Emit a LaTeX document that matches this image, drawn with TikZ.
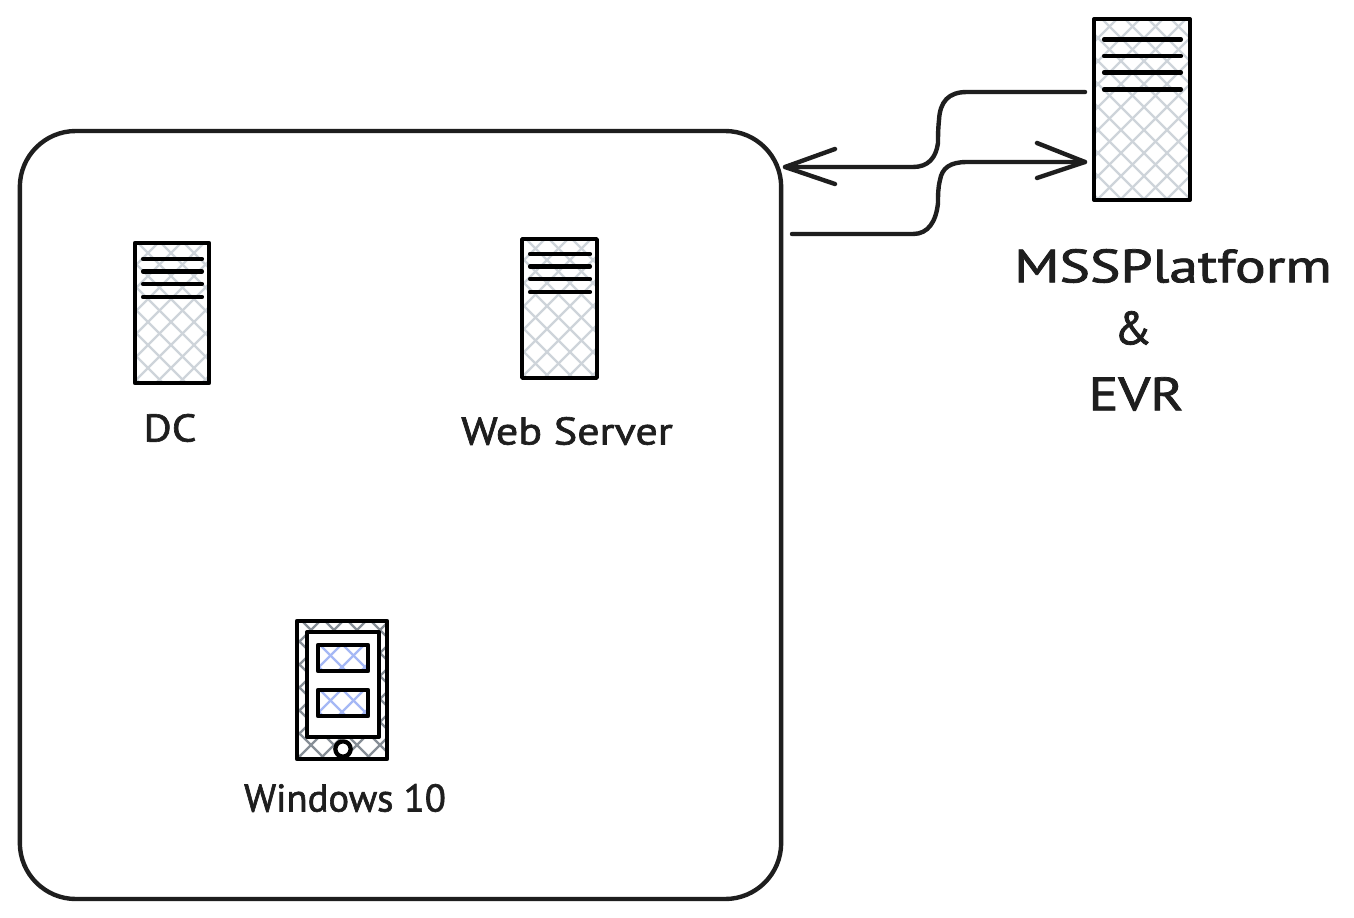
\documentclass[tikz,border=0pt]{standalone}
\usepackage{fontspec}
\setmainfont[FakeBold=1.6]{PT Sans}
\definecolor{ink}{HTML}{1E1E1E}
\definecolor{hatchgrey}{HTML}{CED4DA}
\definecolor{hatchdark}{HTML}{868E96}
\definecolor{hatchblue}{HTML}{A5B8F5}
\newcommand{\hatchbox}[6]{% x1 y1 x2 y2 colour period
  \begin{scope}
    \clip (#1,#2) rectangle (#3,#4);
    \pgfmathsetmacro{\hh}{#4-#2}
    \pgfmathsetmacro{\nn}{int((#3-#1+\hh)/#6)+1}
    \foreach \k in {0,...,\nn}{
      \draw[#5,line width=1.8pt] ({#1-\hh+\k*#6},#4) -- ++({\hh+2},{-\hh-2});
      \draw[#5,line width=1.8pt] ({#1-\hh+\k*#6+5},#2) -- ++({\hh+2},{\hh+2});
    }
  \end{scope}}
\tikzset{
  x=0.75pt,y=-0.75pt,
  wire/.style={draw=ink,line width=3.3pt,line cap=round,line join=round},
  boxline/.style={draw=black,line width=3.2pt,line join=round,inner sep=0pt},
  slat/.style={draw=black,line width=3.1pt,line cap=round},
  caption/.style={text=ink,inner sep=0pt,align=center,font=\fontsize{29}{36}\selectfont},
  bigcaption/.style={caption,font=\fontsize{35}{40}\selectfont}
}
\begin{document}
\begin{tikzpicture}
\useasboundingbox[fill=white] (0,0) rectangle (1354,918);
% enclosure
\node[draw=ink,line width=3.3pt,rounded corners=42pt,minimum width=571pt,minimum height=576pt,inner sep=0pt] (net) at (400.5,515) {};
% MSS server
\hatchbox{1094}{19}{1190}{200}{hatchgrey}{23}
\node[boxline,minimum width=72pt,minimum height=135.5pt] (mss) at (1142,109.5) {};
\foreach \yy in {39.5,56,72.5,89.5}{\draw[slat] (1104,\yy) -- (1181,\yy);}
% DC server
\hatchbox{135}{243}{209}{383}{hatchgrey}{23}
\node[boxline,minimum width=55.5pt,minimum height=105pt] (dc) at (172,313) {};
\foreach \yy in {259,271.5,284,297}{\draw[slat] (143,\yy) -- (202,\yy);}
% Web server
\hatchbox{522}{239}{597}{378}{hatchgrey}{23}
\node[boxline,minimum width=56pt,minimum height=104pt] (web) at (559.5,308.5) {};
\foreach \yy in {254,266.5,279,292}{\draw[slat] (530,\yy) -- (590,\yy);}
% Phone
\hatchbox{297}{621}{387}{759}{hatchdark}{23}
\node[boxline,minimum width=67.5pt,minimum height=103.5pt] (phone) at (342,690) {};
\node[boxline,fill=white,minimum width=54pt,minimum height=78.5pt] (screen) at (343,684.5) {};
\hatchbox{318}{645}{368}{671}{hatchblue}{23}
\hatchbox{318}{690}{368}{716}{hatchblue}{23}
\node[boxline,minimum width=37.5pt,minimum height=19.5pt] (tileA) at (343,658) {};
\node[boxline,minimum width=37.5pt,minimum height=19.5pt] (tileB) at (343,703) {};
\node[circle,boxline,fill=white,minimum size=11.5pt] (button) at (343,749) {};
% captions
\node[caption,xscale=1.12] (lblDC) at (170,428) {DC};
\node[caption,xscale=1.14] (lblWeb) at (567,431) {Web Server};
\node[caption] (lblWin) at (345,798) {Windows 10};
\node[bigcaption,xscale=1.23] (lblMSS) at (1173,266) {MSSPlatform};
\node[bigcaption] (lblAmp) at (1133,328) {\&};
\node[bigcaption,xscale=1.2] (lblEVR) at (1136,394) {EVR};
% connector ends
\coordinate (upS) at (1085,92);
\coordinate (upE) at (785,167);
\coordinate (loS) at (792,234);
\coordinate (loE) at (1085,162);
\draw[wire] (upS) -- (967,92) .. controls (948,92) and (940,102) .. (939,120)
  .. controls (938,130) and (938,136) .. (938,143)
  .. controls (936,158) and (928,167) .. (913,167) -- (upE);
\draw[wire] (upE) ++(50,-18) -- (upE) -- ++(50,17);
\draw[wire] (loS) -- (913,234) .. controls (928,234) and (936,222) .. (938,203)
  .. controls (938,195) and (938,188) .. (940,180)
  .. controls (942,168) and (950,162) .. (967,162) -- (loE);
\draw[wire] (loE) ++(-48,-19) -- (loE) -- ++(-48,16);
\end{tikzpicture}
\end{document}
